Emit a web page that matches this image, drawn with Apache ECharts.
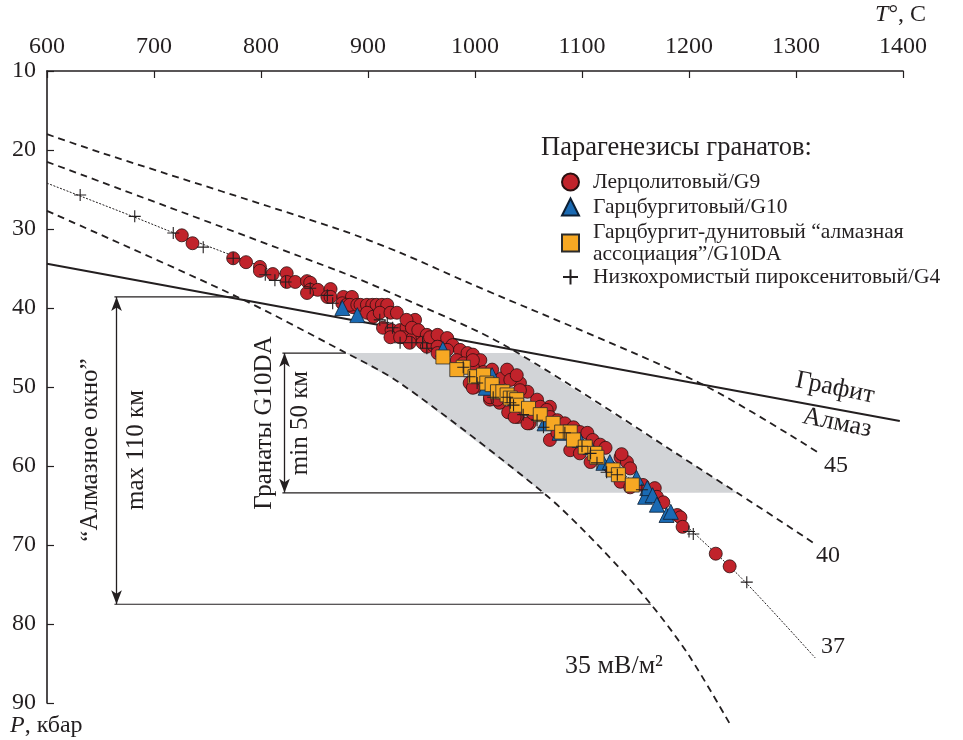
<!DOCTYPE html>
<html><head><meta charset="utf-8">
<script src="https://cdn.jsdelivr.net/npm/echarts@6/dist/echarts.min.js"></script>
<style>html,body{margin:0;padding:0;background:#fff}#c{width:963px;height:740px}</style>
</head><body><div id="c"></div>
<script>
// ---- axis ranges / ticks ----
const tempTicks = [600, 700, 800, 900, 1000, 1100, 1200, 1300, 1400];
const pressTicks = [10, 20, 30, 40, 50, 60, 70, 80, 90];

// ---- geotherms [T °C, P kbar] ----
const geo45 = [[600,18.0],[652,20.4],[874,30.1],[930,33.0],[992,36.7],[1210,49.5],[1322,58.4]];
const geo40 = [[600,21.5],[874,35.4],[930,38.6],[1030,44.9],[1245,63.4],[1316,69.7]];
const geo37 = [[600,24.2],[680,28.4],[726,30.9],[774,33.4],[824,36.0],[864,38.2],[930,42.6],[970,46.0],[1023,50.4],[1070,54.4],[1117,58.8],[1148,62.0],[1179,65.4],[1204,68.4],[1252,74.6],[1318,84.3]];
const geo35 = [[600,27.7],[778,38.6],[874,45.3],[930,49.5],[1064,63.4],[1117,70.3],[1165,77.6],[1200,84.0],[1238,92.6]];
const graphiteDiamond = [[600,34.4],[1397,54.3]];

// ---- garnet parageneses ----
const g9 = [
[726,30.8],[736,31.8],[774,33.7],[786,34.2],[799,34.8],[799,35.3],[811,35.7],[824,35.6],[824,36.7],[832,36.7],[843,36.6],[846,36.8],[846,37.7],[853,37.7],[843,38.1],[865,37.6],[862,38.6],[865,38.6],[877,38.6],[885,38.6],[876,39.4],[880,39.6],[886,39.9],[883,39.6],[890,39.6],[893,39.6],[899,39.6],[904,39.6],[908,39.6],[913,39.6],[918,39.6],[899,40.6],[905,41.1],[911,40.6],[921,40.6],[927,40.6],
[914,42.5],[922,42.8],[930,42.8],[936,42.5],[944,41.5],[936,41.5],[933,43.7],[942,43.8],[951,43.7],[939,44.4],[941,42.5],[947,42.8],[955,43.4],[965,43.7],[967,44.3],[921,43.7],[930,43.7],[951,44.4],[955,44.9],[961,44.7],[958,43.7],[965,43.4],[974,43.8],[979,44.7],[965,44.9],[965,45.7],
[974,45.3],[986,45.3],[993,45.7],[998,45.9],[1005,46.6],[983,46.6],[989,47.0],[998,47.5],[1008,48.1],[998,46.6],[1016,47.8],[1025,48.9],[1037,48.7],[1042,49.5],[1049,50.6],[1058,51.6],[1070,52.5],[1000,50.0],[1014,51.6],[1023,52.0],[1039,53.2],[1051,54.6],
[995,49.5],[998,50.1],[1014,51.3],[1021,51.6],[1030,47.8],[1033,49.1],[1039,48.5],[1042,50.4],[1040,53.8],
[1031,53.2],[1037,53.8],[1049,54.6],[1054,53.3],[1061,52.5],[1067,52.9],[1070,53.8],[1077,54.2],[1084,54.6],[1092,55.1],[1098,55.7],[1105,55.8],[1110,56.7],[1117,57.3],[1122,57.7],[1070,56.7],[1077,55.8],[1089,58.0],[1098,58.4],[1108,59.5],[1136,58.9],[1142,59.5],[1145,60.3],[1126,60.1],[1136,62.0],[1145,62.7],[1157,62.4],[1168,62.8],[1170,63.9],[1176,64.6],[1137,58.5],
[1189,66.2],[1192,66.5],[1194,67.7],[1225,71.1],[1238,72.7]
];
const g10 = [[876,40.0],[890,40.9],[970,45.2],[1016,48.5],[1010,50.1],[1065,54.6],[1079,55.8],[1098,56.7],[1108,57.6],[1120,59.6],[1126,59.5],[1151,61.5],[1159,63.9],[1161,62.8],[1166,63.7],[1170,64.9],[1179,66.2],[1183,65.8]];
const g10da = [[970,46.2],[989,47.5],[983,47.8],[1000,48.7],[1008,48.5],[1011,49.5],[1016,49.7],[1021,50.6],[1026,50.6],[1030,51.0],[1033,51.4],[1039,51.6],[1039,52.3],[1050,52.7],[1061,53.5],[1073,54.6],[1081,55.7],[1089,55.7],[1092,56.7],[1103,57.6],[1112,58.4],[1114,58.9],[1129,60.5],[1134,61.1],[1147,62.4]];
const g4 = [[631,25.7],[682,28.4],[718,30.5],[746,32.3],[774,33.7],[804,35.8],[813,36.5],[823,36.7],[846,37.5],[862,38.4],[867,39.4],[911,41.5],[918,41.9],[923,42.5],[930,44.4],[941,44.4],[951,44.4],[955,45.1],[989,47.5],[995,48.7],[1002,49.5],[1017,51.3],[1030,51.3],[1033,52.0],[1036,52.3],[1045,53.5],[1058,54.2],[1064,55.1],[1084,55.8],[1100,57.5],[1108,58.4],[1114,59.6],[1123,60.8],[1133,61.1],[1156,63.0],[1200,68.3],[1204,68.6],[1254,74.7]];

// ---- annotation brackets (P in kbar, T in °C) ----
const windowP = [38.6, 77.5];      // "Алмазное окно"
const windowT = [663, 665];        // line start, arrow
const g10daP = [45.7, 63.4];       // "Гранаты G10DA"
const g10daT = [820, 822];

const names = ['Лерцолитовый/G9','Гарцбургитовый/G10','Гарцбургит-дунитовый “алмазная\nассоциация”/G10DA','Низкохромистый пироксенитовый/G4'];

function tAtP(curve, p){
  for (let i=0;i<curve.length-1;i++){
    const a=curve[i], b=curve[i+1];
    if ((p>=a[1] && p<=b[1])){ const f=(p-a[1])/(b[1]-a[1]); return a[0]+f*(b[0]-a[0]); }
  }
  return curve[curve.length-1][0];
}
const pTop = g10daP[0], pBot = g10daP[1];
const band = [[tAtP(geo35,pTop),pTop],[tAtP(geo40,pTop),pTop]]
  .concat(geo40.filter(p=>p[1]>pTop && p[1]<pBot))
  .concat([[tAtP(geo40,pBot),pBot],[tAtP(geo35,pBot),pBot]])
  .concat(geo35.filter(p=>p[1]>pTop && p[1]<pBot).reverse());

const FF = '"Liberation Serif", "Times New Roman", serif';
const INK = '#231f20';
const dashed = {color:INK, width:1.8, type:[7,5]};

function lineSeries(data, style, extra){
  return Object.assign({type:'line', data, symbol:'none', silent:true, lineStyle:style, z:3, animation:false}, extra||{});
}
const smoothOpt = {smooth:0.3};

const chart = echarts.init(document.getElementById('c'), null, {renderer:'canvas'});
const crossPath = 'path://M0,5L10,5M5,0L5,10';

function txt(x,y,text,opts){
  opts = opts||{};
  const size = opts.size||25;
  return {type:'text', x, y, rotation:opts.rot||0, z:50, silent:true,
    style:{text, fill:INK, font:'normal '+size+'px '+FF,
      fontFamily:FF, fontSize:size,
      align:opts.align||'center', verticalAlign:'middle', textAlign:opts.align||'center', textVerticalAlign:'middle',
      rich:opts.rich}};
}
const richI = {i:{fontStyle:'italic', fontFamily:FF, fontSize:24, fill:INK, color:INK}};

chart.setOption({
  animation:false,
  backgroundColor:'#fff',
  grid:{left:47, right:60, top:71, bottom:37},
  xAxis:{type:'value', position:'top', min:tempTicks[0], max:tempTicks[tempTicks.length-1], interval:100,
    axisLine:{show:true, onZero:false, lineStyle:{color:INK, width:1.6}},
    axisTick:{show:true, inside:true, length:7, lineStyle:{color:INK, width:1.2}},
    axisLabel:{color:INK, fontFamily:FF, fontSize:24, margin:12, formatter:v=>String(v)},
    splitLine:{show:false}},
  yAxis:{type:'value', inverse:true, min:pressTicks[0], max:pressTicks[pressTicks.length-1], interval:10,
    axisLine:{show:true, onZero:false, lineStyle:{color:INK, width:1.6}},
    axisTick:{show:true, inside:true, length:7, lineStyle:{color:INK, width:1.2}},
    axisLabel:{color:INK, fontFamily:FF, fontSize:24, margin:11, formatter:v=>String(v)},
    splitLine:{show:false}},
  legend:[
    {data:[names[0],names[1],names[2]], orient:'vertical', left:561, top:171, padding:0, itemWidth:17, itemHeight:17, itemGap:3,
     selectedMode:false, textStyle:{fontFamily:FF, fontSize:21.5, color:INK, lineHeight:22, padding:[0,0,0,9]}},
    {data:[names[3]], orient:'vertical', left:562, top:266, padding:0, itemWidth:15, itemHeight:15, itemGap:3,
     selectedMode:false, textStyle:{fontFamily:FF, fontSize:21.5, color:INK, lineHeight:22, padding:[0,0,0,10]}}
  ],
  series:[
    {type:'custom', silent:true, z:1, data:[[0]],
     renderItem:(params, api)=>({type:'polygon', shape:{points:band.map(p=>api.coord(p))}, style:{fill:'#d2d4d7'}})},
    lineSeries(geo45, dashed, smoothOpt),
    lineSeries(geo40, dashed, smoothOpt),
    lineSeries(geo35, dashed, Object.assign({clip:false}, smoothOpt)),
    lineSeries(geo37, {color:INK, width:1, type:[2,1.5]}, smoothOpt),
    lineSeries(graphiteDiamond, {color:INK, width:2}),
    lineSeries([[windowT[0],windowP[0]],[tAtP(geo35,windowP[0]),windowP[0]]], {color:INK, width:1.2}),
    lineSeries([[windowT[0],windowP[1]],[tAtP(geo35,windowP[1]),windowP[1]]], {color:INK, width:1.2}),
    lineSeries([[g10daT[0],g10daP[0]],[tAtP(geo35,g10daP[0]),g10daP[0]]], {color:INK, width:1.2}),
    lineSeries([[g10daT[0],g10daP[1]],[tAtP(geo35,g10daP[1]),g10daP[1]]], {color:INK, width:1.2},
      {markLine:{silent:true, symbol:['arrow','arrow'], symbolSize:[8,14], label:{show:false}, animation:false,
        lineStyle:{color:INK, width:1.3, type:'solid'},
        data:[[{coord:[windowT[1],windowP[0]]},{coord:[windowT[1],windowP[1]]}],
              [{coord:[g10daT[1],g10daP[0]]},{coord:[g10daT[1],g10daP[1]]}]]}}),
    {name:names[0], type:'scatter', data:g9, symbol:'circle', symbolSize:13, z:10,
     itemStyle:{color:'#c1232b', borderColor:'#2a1010', borderWidth:0.8, opacity:1}},
    {name:names[1], type:'scatter', data:g10, symbol:'triangle', symbolSize:15, z:11,
     itemStyle:{color:'#1a6ab3', borderColor:'#0d1f33', borderWidth:0.8, opacity:1}},
    {name:names[2], type:'scatter', data:g10da, symbol:'rect', symbolSize:14, z:12,
     itemStyle:{color:'#f7a823', borderColor:'#2b2b2b', borderWidth:0.8, opacity:1}},
    {name:names[3], type:'scatter', data:g4, symbol:crossPath, symbolSize:12, z:13,
     itemStyle:{color:'rgba(0,0,0,0)', borderColor:INK, borderWidth:1.1, opacity:1}}
  ],
  graphic:[
    txt(926,15,'{i|T}°, C',{align:'right', size:24, rich:richI}),
    txt(10,726,'{i|P}, кбар',{align:'left', size:24, rich:richI}),
    txt(541,148,'Парагенезисы гранатов:',{align:'left', size:26.5}),
    txt(835,388,'Графит',{rot:-0.2, size:26}),
    txt(837,423,'Алмаз',{rot:-0.2, size:26}),
    txt(836,466,'45',{size:24}),
    txt(828,556,'40',{size:24}),
    txt(833,647,'37',{size:24}),
    txt(614,666,'35 мВ/м²',{size:26}),
    txt(90,450,'“Алмазное окно”',{rot:Math.PI/2, size:25}),
    txt(136,450,'max 110 км',{rot:Math.PI/2, size:25}),
    txt(264,423,'Гранаты G10DA',{rot:Math.PI/2, size:25}),
    txt(300,423,'min 50 км',{rot:Math.PI/2, size:25})
  ]
});
</script></body></html>
